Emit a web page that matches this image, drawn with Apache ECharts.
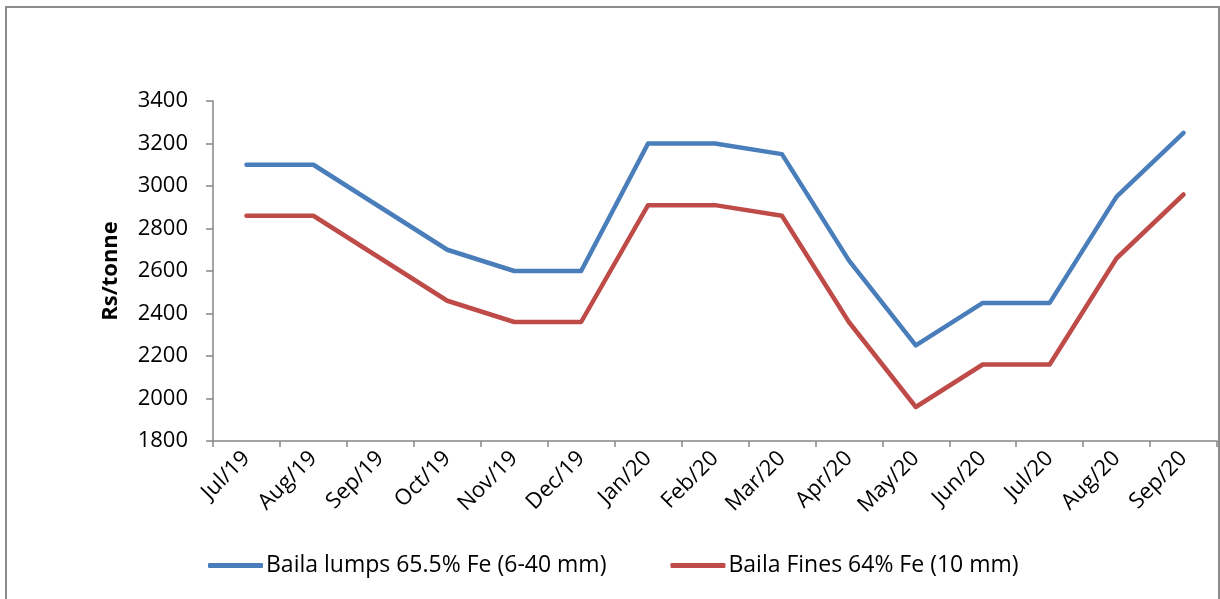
<!DOCTYPE html>
<html>
<head>
<meta charset="utf-8">
<script src="https://cdn.jsdelivr.net/npm/echarts@6/dist/echarts.min.js"></script>
<style>
  html, body { margin: 0; padding: 0; background: #ffffff; }
  #chart { width: 1220px; height: 599px; }
</style>
</head>
<body>
<div id="chart"></div>
<script>
// Monthly prices, Rs/tonne
const months = ['Jul/19', 'Aug/19', 'Sep/19', 'Oct/19', 'Nov/19', 'Dec/19', 'Jan/20', 'Feb/20',
                'Mar/20', 'Apr/20', 'May/20', 'Jun/20', 'Jul/20', 'Aug/20', 'Sep/20'];
const lumpsName = 'Baila lumps 65.5% Fe (6-40 mm)';
const lumps = [3100, 3100, 2900, 2700, 2600, 2600, 3200, 3200, 3150, 2650, 2250, 2450, 2450, 2950, 3250];
const finesName = 'Baila Fines 64% Fe (10 mm)';
const fines = [2860, 2860, 2660, 2460, 2360, 2360, 2910, 2910, 2860, 2360, 1960, 2160, 2160, 2660, 2960];
const yTicks = { min: 1800, max: 3400, step: 200 };
const yTitle = 'Rs/tonne';

const FONT = '"Open Sans", "Liberation Sans", sans-serif';
const AXIS_GREY = '#868686';
const BLUE = '#4A7EBB';
const RED = '#BE4B48';

const chart = echarts.init(document.getElementById('chart'), null, { renderer: 'canvas' });

function lineSeries(name, data, color) {
  return {
    name: name,
    type: 'line',
    data: data,
    symbol: 'none',
    color: color,
    lineStyle: { color: color, width: 4.5, cap: 'round', join: 'round' },
    animation: false
  };
}

chart.setOption({
  animation: false,
  backgroundColor: '#ffffff',
  graphic: [{
    type: 'rect',
    shape: { x: 6, y: 7, width: 1213, height: 620 },
    style: { fill: 'none', stroke: '#8c8c8c', lineWidth: 2 },
    silent: true
  }],
  grid: { left: 213, right: 3, top: 101, bottom: 158, containLabel: false },
  legend: {
    bottom: 17,
    left: 203,
    itemGap: 64,
    itemWidth: 55,
    itemHeight: 5,
    icon: 'roundRect',
    textStyle: { fontFamily: FONT, fontSize: 23, color: '#000000', padding: [0, 0, 0, -2] },
    data: [lumpsName, finesName]
  },
  xAxis: {
    type: 'category',
    data: months,
    boundaryGap: true,
    axisLine: { lineStyle: { color: AXIS_GREY, width: 1.5 } },
    axisTick: { show: true, length: 6, alignWithLabel: false, lineStyle: { color: AXIS_GREY, width: 1.5 } },
    axisLabel: {
      rotate: 45,
      interval: 0,
      margin: 14,
      fontFamily: FONT,
      fontSize: 22,
      color: '#000000'
    },
    splitLine: { show: false }
  },
  yAxis: {
    type: 'value',
    min: yTicks.min,
    max: yTicks.max,
    interval: yTicks.step,
    name: yTitle,
    nameLocation: 'middle',
    nameRotate: 90,
    nameGap: 91,
    nameTextStyle: { fontFamily: FONT, fontSize: 22, fontWeight: 'bold', color: '#000000' },
    axisLine: { show: true, lineStyle: { color: AXIS_GREY, width: 1.5 } },
    axisTick: { show: true, length: 7, inside: false, lineStyle: { color: AXIS_GREY, width: 1.5 } },
    axisLabel: {
      margin: 25,
      fontFamily: FONT,
      fontSize: 22,
      color: '#000000',
      formatter: function (v) { return String(v); }
    },
    splitLine: { show: false }
  },
  series: [
    lineSeries(lumpsName, lumps, BLUE),
    lineSeries(finesName, fines, RED)
  ]
});
</script>
</body>
</html>
